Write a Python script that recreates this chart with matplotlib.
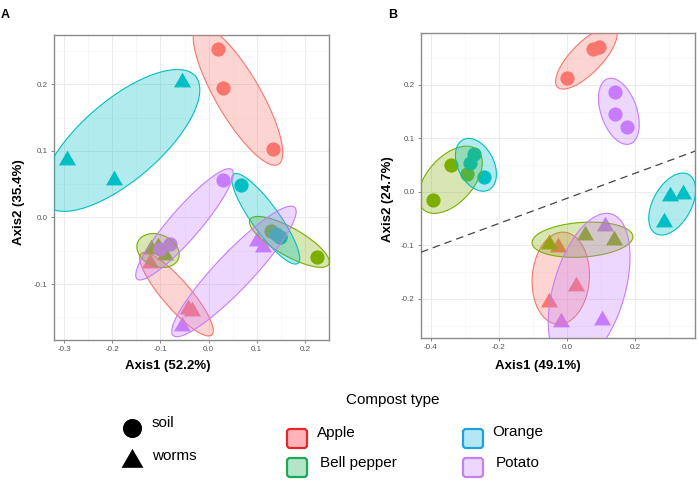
import numpy as np
import matplotlib
matplotlib.use('Agg')
import matplotlib.pyplot as plt
from matplotlib.patches import Polygon, FancyBboxPatch
from matplotlib.path import Path
from matplotlib.ticker import FormatStrFormatter, MultipleLocator

plt.rcParams['font.family'] = ['Liberation Sans', 'DejaVu Sans']

composts = ['Apple', 'Bell pepper', 'Orange', 'Potato']
hue = {'Apple': '#F8766D', 'Bell pepper': '#7CAE00', 'Orange': '#00BFC4', 'Potato': '#C77CFF'}

# panel A (Axis1 52.2%, Axis2 35.4%)
a_soil = {
    'Apple': ([0.020, 0.030, 0.133], [0.253, 0.195, 0.103]),
    'Bell pepper': ([0.130, 0.148, 0.225], [-0.020, -0.030, -0.060]),
    'Orange': ([0.068, 0.140, 0.148], [0.049, -0.025, -0.030]),
    'Potato': ([0.030, -0.080, -0.100], [0.057, -0.040, -0.048]),
}
a_worms = {
    'Apple': ([-0.122, -0.043, -0.035], [-0.069, -0.137, -0.140]),
    'Bell pepper': ([-0.120, -0.090, -0.105], [-0.048, -0.056, -0.045]),
    'Orange': ([-0.295, -0.197, -0.055], [0.087, 0.057, 0.203]),
    'Potato': ([-0.055, 0.100, 0.113], [-0.163, -0.035, -0.045]),
}

# panel B (Axis1 49.1%, Axis2 24.7%)
b_soil = {
    'Apple': ([0.000, 0.075, 0.095], [0.213, 0.268, 0.270]),
    'Bell pepper': ([-0.340, -0.394, -0.294], [0.050, -0.016, 0.034]),
    'Orange': ([-0.272, -0.286, -0.245], [0.071, 0.054, 0.027]),
    'Potato': ([0.140, 0.140, 0.177], [0.186, 0.145, 0.121]),
}
b_worms = {
    'Apple': ([-0.026, -0.054, 0.025], [-0.102, -0.206, -0.176]),
    'Bell pepper': ([-0.053, 0.052, 0.137], [-0.097, -0.081, -0.090]),
    'Orange': ([0.302, 0.341, 0.284], [-0.008, -0.003, -0.057]),
    'Potato': ([0.111, -0.019, 0.103], [-0.064, -0.244, -0.239]),
}
b_line = (0.2345, -0.012)   # slope, intercept of dashed line

tri = Path([(0, 0.577), (-0.5, -0.289), (0.5, -0.289), (0, 0.577)])


def mvee(P, tol=1e-7, iters=2000):
    # Khachiyan minimum volume enclosing ellipse
    n, d = P.shape
    Q = np.vstack([P.T, np.ones(n)])
    u = np.ones(n) / n
    for _ in range(iters):
        X = Q @ np.diag(u) @ Q.T
        M = np.einsum('ij,ji->i', Q.T @ np.linalg.inv(X), Q)
        j = np.argmax(M)
        step = (M[j] - d - 1) / ((d + 1) * (M[j] - 1))
        nu = (1 - step) * u
        nu[j] += step
        if np.linalg.norm(nu - u) < tol:
            u = nu
            break
        u = nu
    c = P.T @ u
    S = (P.T @ np.diag(u) @ P - np.outer(c, c)) * d
    return c, S


def mark_ellipse(ax, xs, ys, color, expand=13):
    pts = ax.transData.transform(np.column_stack([xs, ys]))
    c, S = mvee(pts)
    w, v = np.linalg.eigh(S)
    semi = np.sqrt(np.clip(w, 0, None)) + expand
    t = np.linspace(0, 2 * np.pi, 200)
    circ = np.column_stack([np.cos(t) * semi[0], np.sin(t) * semi[1]])
    poly = circ @ v.T + c
    poly = ax.transData.inverted().transform(poly)
    ax.add_patch(Polygon(poly, closed=True, facecolor=color, alpha=0.3, edgecolor='none', zorder=3))
    ax.add_patch(Polygon(poly, closed=True, facecolor='none', edgecolor=color, lw=0.8, zorder=3))


def style(ax, xlim, ylim, xmaj, ymaj):
    ax.set_xlim(*xlim)
    ax.set_ylim(*ylim)
    ax.xaxis.set_major_locator(MultipleLocator(xmaj))
    ax.xaxis.set_minor_locator(MultipleLocator(xmaj / 2))
    ax.yaxis.set_major_locator(MultipleLocator(ymaj))
    ax.yaxis.set_minor_locator(MultipleLocator(ymaj / 2))
    ax.xaxis.set_major_formatter(FormatStrFormatter('%.1f'))
    ax.yaxis.set_major_formatter(FormatStrFormatter('%.1f'))
    ax.grid(which='major', color='#EBEBEB', lw=0.7)
    ax.grid(which='minor', color='#F5F5F5', lw=0.5)
    ax.set_axisbelow(True)
    ax.tick_params(which='major', labelsize=5.8, labelcolor='#555555', color='#555555',
                   length=2.5, width=0.5, pad=2)
    ax.tick_params(which='minor', length=0)
    for s in ax.spines.values():
        s.set_color('#8A8A8A')
        s.set_linewidth(1.0)


def draw_panel(ax, soil, worms):
    for k in composts:
        ax.scatter(soil[k][0], soil[k][1], s=105, marker='o', color=hue[k], lw=0, zorder=2)
        ax.scatter(worms[k][0], worms[k][1], s=200, marker=tri, color=hue[k], lw=0, zorder=2)
    for k in composts:
        mark_ellipse(ax, soil[k][0], soil[k][1], hue[k])
        mark_ellipse(ax, worms[k][0], worms[k][1], hue[k])


W, H = 699, 488
fig = plt.figure(figsize=(W / 100, H / 100), dpi=100)

axA = fig.add_axes([54 / W, 1 - 340 / H, 275 / W, 305 / H])
style(axA, (-0.321, 0.25), (-0.184, 0.274), 0.1, 0.1)
draw_panel(axA, a_soil, a_worms)

axB = fig.add_axes([421 / W, 1 - 338 / H, 274 / W, 305 / H])
style(axB, (-0.429, 0.376), (-0.273, 0.297), 0.2, 0.1)
draw_panel(axB, b_soil, b_worms)
lx = np.array(axB.get_xlim())
axB.plot(lx, b_line[0] * lx + b_line[1], color='#444444', lw=0.9, ls=(0, (6, 4)), zorder=4)

# axis titles and panel letters
fig.text(168 / W, 1 - 366 / H, 'Axis1 (52.2%)', ha='center', va='center', fontsize=9.5, fontweight='bold')
fig.text(19 / W, 1 - 202 / H, 'Axis2 (35.4%)', ha='center', va='center', fontsize=9.5,
         fontweight='bold', rotation=90)
fig.text(538 / W, 1 - 366 / H, 'Axis1 (49.1%)', ha='center', va='center', fontsize=9.5, fontweight='bold')
fig.text(388 / W, 1 - 199 / H, 'Axis2 (24.7%)', ha='center', va='center', fontsize=9.5,
         fontweight='bold', rotation=90)
fig.text(5 / W, 1 - 15 / H, 'A', ha='center', va='center', fontsize=9, fontweight='bold')
fig.text(393 / W, 1 - 15 / H, 'B', ha='center', va='center', fontsize=9, fontweight='bold')

# legend area in pixel coordinates
lg = fig.add_axes([0, 0, 1, 1], zorder=-1)
lg.set_xlim(0, W)
lg.set_ylim(H, 0)
lg.axis('off')
lg.scatter([132], [428], s=190, marker='o', color='black', lw=0)
lg.scatter([132], [461], s=330, marker=tri, color='black', lw=0)
lg.text(152, 423, 'soil', fontsize=11, va='center', ha='left')
lg.text(152, 456, 'worms', fontsize=11, va='center', ha='left')
lg.text(393, 400, 'Compost type', fontsize=11, va='center', ha='center')

box_edge = ['#E5262B', '#20A954', '#1CA4D9', '#C283F0']
box_fill = ['#FFB5B8', '#B3E6C9', '#B5E6F6', '#EDD7FD']
box_pos = [(287, 429), (287, 458), (463, 429), (463, 458)]
text_pos = [(317, 433), (320, 463), (492, 432), (496, 463)]
for k, e, f, (bx, by), (tx, ty) in zip(composts, box_edge, box_fill, box_pos, text_pos):
    lg.add_patch(FancyBboxPatch((bx + 2, by + 2), 16, 15, boxstyle='round,pad=2,rounding_size=3',
                                facecolor=f, edgecolor=e, lw=1.6))
    lg.text(tx, ty, k, fontsize=11, va='center', ha='left')

fig.savefig('out.png', dpi=100)
